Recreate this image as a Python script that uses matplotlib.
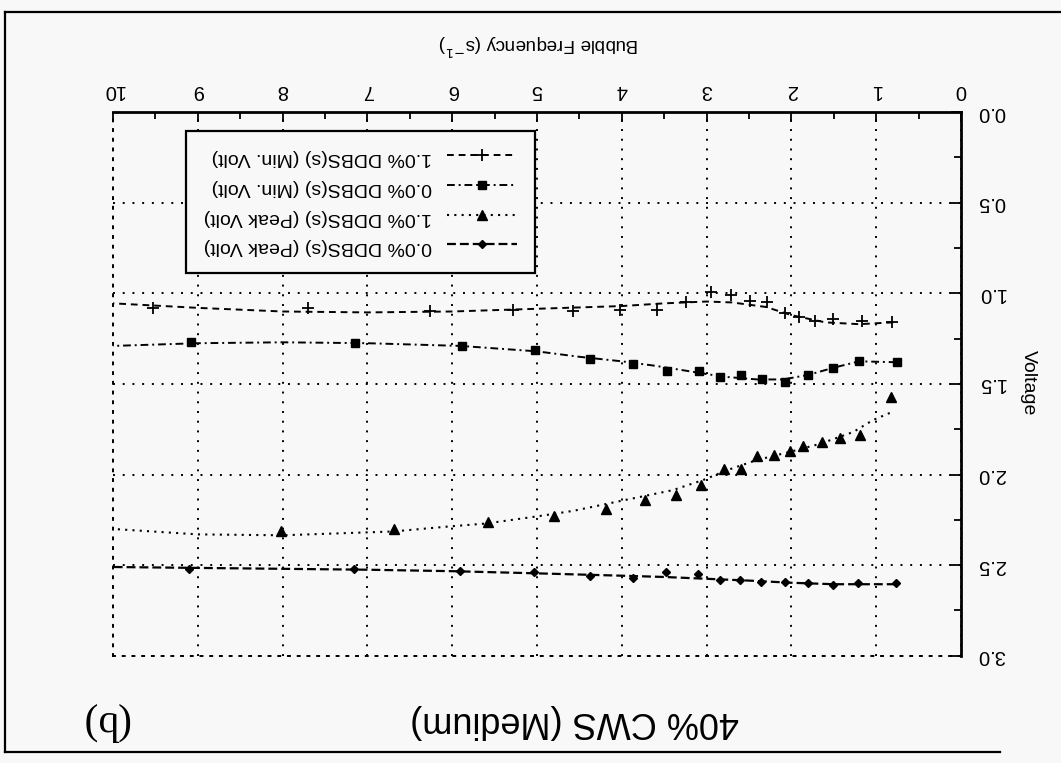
import matplotlib
matplotlib.use("Agg")
import matplotlib.pyplot as plt
from matplotlib.ticker import MultipleLocator, FormatStrFormatter
from matplotlib.lines import Line2D

# The scanned figure is upside down, so everything is drawn rotated by 180 degrees.
plt.rcParams['font.family'] = ['Liberation Sans', 'DejaVu Sans']

# --- measured points -------------------------------------------------------
peak00_x = [0.77, 1.21, 1.51, 1.80, 2.08, 2.36, 2.61, 2.84, 3.10, 3.48, 3.87, 4.37, 5.04, 5.91, 7.16, 9.10]
peak00_y = [2.60, 2.60, 2.61, 2.60, 2.59, 2.59, 2.58, 2.58, 2.55, 2.54, 2.57, 2.56, 2.54, 2.53, 2.52, 2.52]

peak10_x = [0.82, 1.19, 1.43, 1.64, 1.86, 2.02, 2.20, 2.41, 2.59, 2.80, 3.06, 3.36, 3.73, 4.19, 4.80, 5.58, 6.69, 8.02]
peak10_y = [1.57, 1.78, 1.80, 1.82, 1.84, 1.87, 1.89, 1.90, 1.97, 1.97, 2.06, 2.11, 2.14, 2.19, 2.23, 2.26, 2.30, 2.31]

min00_x = [0.76, 1.20, 1.51, 1.80, 2.08, 2.35, 2.59, 2.84, 3.09, 3.47, 3.87, 4.37, 5.02, 5.89, 7.15, 9.08]
min00_y = [1.38, 1.375, 1.41, 1.45, 1.49, 1.47, 1.45, 1.46, 1.43, 1.43, 1.39, 1.36, 1.31, 1.29, 1.275, 1.27]

min10_x = [0.81, 1.17, 1.51, 1.72, 1.91, 2.08, 2.29, 2.49, 2.71, 2.95, 3.24, 3.59, 4.02, 4.57, 5.28, 6.26, 7.70, 9.53]
min10_y = [1.16, 1.15, 1.14, 1.15, 1.13, 1.11, 1.05, 1.04, 1.01, 0.99, 1.05, 1.09, 1.09, 1.10, 1.09, 1.10, 1.08, 1.08]

# --- smoothed trend curves -------------------------------------------------
peak00_fx = [0.77, 1.5, 2.0, 2.5, 3.0, 3.5, 4.0, 5.0, 6.0, 7.0, 8.0, 9.0, 10.0]
peak00_fy = [2.605, 2.605, 2.597, 2.585, 2.575, 2.565, 2.558, 2.545, 2.533, 2.525, 2.52, 2.515, 2.51]

peak10_fx = [0.84, 1.04, 1.27, 1.66, 2.02, 2.41, 2.76, 3.04, 3.4, 4.06, 4.57, 4.96, 5.6, 6.03, 6.7, 8.0, 9.0, 10.0]
peak10_fy = [1.66, 1.70, 1.765, 1.83, 1.875, 1.92, 1.976, 2.03, 2.086, 2.15, 2.20, 2.228, 2.27, 2.286, 2.314, 2.335, 2.33, 2.30]

min00_fx = [0.76, 1.2, 1.5, 1.8, 2.1, 2.4, 2.8, 3.2, 3.6, 4.0, 4.5, 5.0, 5.9, 7.0, 8.0, 9.0, 10.0]
min00_fy = [1.38, 1.375, 1.41, 1.45, 1.475, 1.475, 1.46, 1.43, 1.40, 1.375, 1.35, 1.32, 1.29, 1.275, 1.27, 1.275, 1.29]

min10_fx = [0.8, 1.2, 1.6, 2.0, 2.3, 2.7, 3.0, 3.5, 4.0, 5.0, 6.0, 7.0, 8.0, 9.0, 10.0]
min10_fy = [1.16, 1.17, 1.16, 1.12, 1.075, 1.05, 1.045, 1.055, 1.07, 1.085, 1.10, 1.105, 1.10, 1.08, 1.055]

labels = ["1.0% DDBS(s) (Min. Volt)", "0.0% DDBS(s) (Min. Volt)",
          "1.0% DDBS(s) (Peak Volt)", "0.0% DDBS(s) (Peak Volt)"]

bg = '#f8f8f8'
fig = plt.figure(figsize=(10.61, 7.63), dpi=100, facecolor=bg)
ax = fig.add_axes([0.1065, 0.1405, 0.7992, 0.7125], facecolor=bg)

style_min10 = dict(color='black', lw=1.4, dashes=[3.5, 2.5])
style_min00 = dict(color='black', lw=1.4, dashes=[4, 2, 1, 2])
style_peak10 = dict(color='black', lw=1.5, dashes=[1, 2.5])
style_peak00 = dict(color='black', lw=1.6, dashes=[4, 1.8])

ax.plot(min10_fx, min10_fy, **style_min10)
ax.plot(min00_fx, min00_fy, **style_min00)
ax.plot(peak10_fx, peak10_fy, **style_peak10)
ax.plot(peak00_fx, peak00_fy, **style_peak00)

ax.plot(min10_x, min10_y, ls='none', marker='+', ms=8, mew=1.3, color='black')
ax.plot(min00_x, min00_y, ls='none', marker='s', ms=6, color='black')
ax.plot(peak10_x, peak10_y, ls='none', marker='^', ms=7, color='black')
ax.plot(peak00_x, peak00_y, ls='none', marker='D', ms=4.5, color='black')

# inverted axes: x=0 on the right, V=0 at the top
ax.set_xlim(10, 0)
ax.set_ylim(3, 0)
ax.xaxis.tick_top()
ax.yaxis.tick_right()
ax.xaxis.set_major_locator(MultipleLocator(1))
ax.xaxis.set_minor_locator(MultipleLocator(0.5))
ax.yaxis.set_major_locator(MultipleLocator(0.5))
ax.yaxis.set_minor_locator(MultipleLocator(0.25))
ax.yaxis.set_major_formatter(FormatStrFormatter('%.1f'))
ax.tick_params(which='both', direction='in', width=1.3, labelsize=14.5, labelrotation=180)
ax.tick_params(which='major', length=7)
ax.tick_params(which='minor', length=5)
ax.tick_params(axis='x', pad=9)
ax.tick_params(axis='y', pad=12)
for t in ax.get_yticklabels():
    t.set_verticalalignment('center')

ax.grid(True, which='major', color='black', lw=1.4, linestyle=(0, (1, 4)))
for s in ['top', 'right']:
    ax.spines[s].set_linewidth(2)
for s in ['bottom', 'left']:
    ax.spines[s].set_linestyle((0, (1, 4)))
    ax.spines[s].set_linewidth(1.4)

# legend (samples on the right, text upside down)
handles = [
    Line2D([], [], marker='+', ms=8, mew=1.3, **style_min10),
    Line2D([], [], marker='s', ms=6, **style_min00),
    Line2D([], [], marker='^', ms=7, **style_peak10),
    Line2D([], [], marker='D', ms=4.5, **style_peak00),
]
leg = ax.legend(handles, labels, loc='upper left', bbox_to_anchor=(0.086, 0.965),
                borderaxespad=0, markerfirst=False, numpoints=1, fontsize=14,
                handlelength=3.6, handletextpad=0.8, labelspacing=0.62, borderpad=0.9,
                fancybox=False, framealpha=1, facecolor=bg, edgecolor='black')
leg.get_frame().set_linewidth(1.6)
for t in leg.get_texts():
    t.set_rotation(180)

fig.text(539 / 1061, 1 - 45 / 763, "Bubble Frequency (s$^{-1}$)", rotation=180,
         ha='center', va='center', fontsize=13.5)
fig.text(1028 / 1061, 1 - 383 / 763, "Voltage", rotation=270,
         ha='center', va='center', fontsize=14)
fig.text(575 / 1061, 1 - 722 / 763, "40% CWS (Medium)", rotation=180,
         ha='center', va='center', fontsize=26)
fig.text(105 / 1061, 1 - 722 / 763, "(b)", rotation=180, family='Liberation Serif',
         ha='center', va='center', fontsize=30)

# outer border of the scanned panel
for xs, ys in [([5, 5], [12, 752]), ([5, 1061], [12, 12]), ([5, 1000], [752, 752])]:
    fig.add_artist(Line2D([x / 1061 for x in xs], [1 - y / 763 for y in ys],
                          color='black', lw=1.6))

fig.savefig("out.png", dpi=100, facecolor=bg)
